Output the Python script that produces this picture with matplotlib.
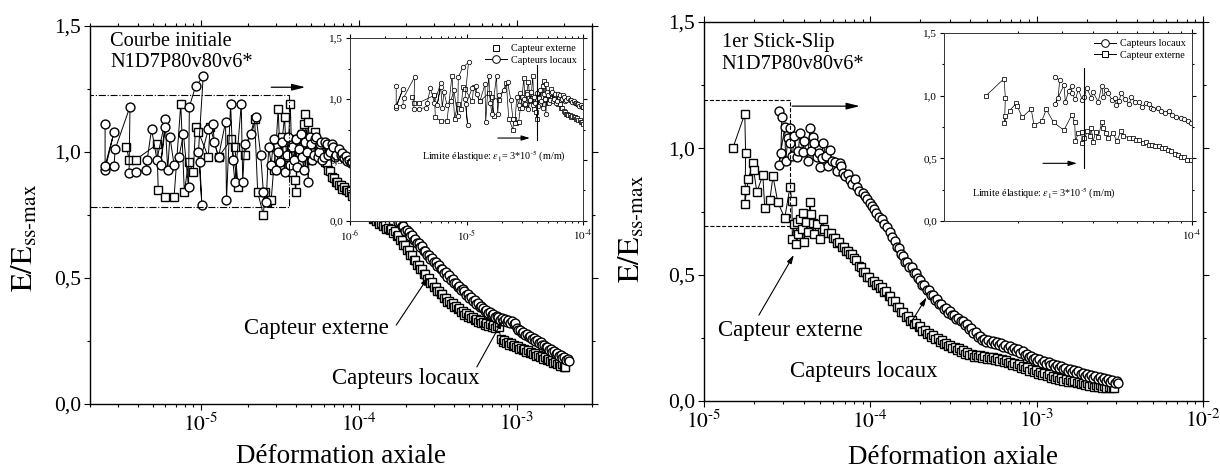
import matplotlib
matplotlib.use("Agg")
import matplotlib.pyplot as plt
from matplotlib.lines import Line2D
from matplotlib.patches import Rectangle
from matplotlib.ticker import FixedLocator, LogLocator, NullFormatter, FuncFormatter

plt.rcParams["font.family"] = ["Liberation Serif", "DejaVu Serif"]
plt.rcParams["mathtext.fontset"] = "stix"

# ---------------- left panel: Courbe initiale ----------------
# capteurs locaux (circles), read segment by segment, in recording order
init_loc_noisy = [
    (2.49e-6, 1.11), (2.49e-6, 0.93), (2.84e-6, 1.08), (2.49e-6, 0.945), (2.84e-6, 0.945),
    (2.88e-6, 1.01), (3.58e-6, 1.18), (3.53e-6, 0.915), (3.9e-6, 0.92), (4.5e-6, 0.93),
    (4.6e-6, 0.97), (4.9e-6, 1.09), (5.3e-6, 0.97), (6.0e-6, 1.13), (5.6e-6, 0.95),
    (6.0e-6, 1.10), (6.2e-6, 0.93), (6.4e-6, 1.06), (6.8e-6, 0.95), (7.3e-6, 0.98),
    (7.8e-6, 1.07), (8.4e-6, 0.86), (8.5e-6, 1.18), (9.3e-6, 1.26), (1.04e-5, 1.30),
    (9.7e-6, 1.00), (1.02e-5, 0.79), (9.9e-6, 0.96), (1.12e-5, 1.09), (1.2e-5, 1.11),
    (1.22e-5, 1.04), (1.3e-5, 0.98), (1.44e-5, 1.12), (1.46e-5, 0.81), (1.55e-5, 1.19),
    (1.6e-5, 0.97), (1.65e-5, 0.88), (1.81e-5, 1.19), (1.85e-5, 0.88), (1.9e-5, 1.03),
    (2.1e-5, 1.07), (2.25e-5, 1.14), (2.4e-5, 0.99), (2.5e-5, 0.84), (2.6e-5, 0.80),
    (2.7e-5, 1.02),
]
init_loc_dense = [
    (2.8e-5, 0.95), (2.9e-5, 1.05), (3.0e-5, 0.93), (3.1e-5, 1.00), (3.2e-5, 0.96),
    (3.3e-5, 1.04), (3.4e-5, 0.92), (3.5e-5, 0.99), (3.6e-5, 1.06), (3.7e-5, 0.95),
    (3.8e-5, 1.02), (3.9e-5, 0.97), (4.0e-5, 1.05), (4.1e-5, 0.94), (4.2e-5, 1.01),
    (4.3e-5, 1.07), (4.4e-5, 0.98), (4.5e-5, 0.93), (4.6e-5, 1.04), (4.7e-5, 1.00),
    (4.8e-5, 0.88), (4.9e-5, 1.06), (5.0e-5, 1.03), (5.1e-5, 0.97), (5.2e-5, 0.99),
    (5.3e-5, 1.05), (5.4e-5, 1.06), (5.5e-5, 0.98), (5.6e-5, 1.00), (5.7e-5, 1.03),
    (5.8e-5, 1.04), (5.9e-5, 0.97), (6.0e-5, 0.98), (6.15e-5, 1.04), (6.3e-5, 1.03),
    (6.45e-5, 0.99), (6.6e-5, 1.00), (6.75e-5, 1.03), (6.9e-5, 1.02), (7.05e-5, 0.98),
    (7.2e-5, 0.99),
]
init_loc_decline = [
    (7.5e-5, 1.01), (7.7e-5, 0.99), (7.9e-5, 0.995), (8.1e-5, 0.975), (8.3e-5, 0.985),
    (8.5e-5, 0.965), (8.7e-5, 0.97), (8.9e-5, 0.955), (9.1e-5, 0.96), (9.3e-5, 0.945),
    (9.6e-5, 0.95), (9.8e-5, 0.935), (1.0e-4, 0.935), (1.03e-4, 0.915), (1.06e-4, 0.92),
    (1.08e-4, 0.905), (1.11e-4, 0.905), (1.14e-4, 0.885), (1.17e-4, 0.885), (1.2e-4, 0.87),
    (1.23e-4, 0.87), (1.26e-4, 0.85), (1.29e-4, 0.855), (1.32e-4, 0.835), (1.35e-4, 0.835),
    (1.39e-4, 0.815), (1.42e-4, 0.815), (1.46e-4, 0.795), (1.5e-4, 0.795), (1.53e-4, 0.775),
    (1.57e-4, 0.777), (1.61e-4, 0.758), (1.65e-4, 0.76), (1.69e-4, 0.741), (1.74e-4, 0.742),
    (1.78e-4, 0.723), (1.83e-4, 0.724), (1.87e-4, 0.705), (1.92e-4, 0.707), (1.97e-4, 0.688),
    (2.02e-4, 0.69), (2.07e-4, 0.683), (2.12e-4, 0.666), (2.17e-4, 0.669), (2.23e-4, 0.651),
    (2.28e-4, 0.654), (2.34e-4, 0.637), (2.4e-4, 0.64), (2.46e-4, 0.622), (2.52e-4, 0.625),
    (2.58e-4, 0.608), (2.65e-4, 0.609), (2.71e-4, 0.592), (2.78e-4, 0.593), (2.85e-4, 0.576),
    (2.92e-4, 0.579), (2.99e-4, 0.562), (3.07e-4, 0.565), (3.15e-4, 0.548), (3.22e-4, 0.551),
    (3.3e-4, 0.534), (3.39e-4, 0.537), (3.47e-4, 0.519), (3.56e-4, 0.522), (3.65e-4, 0.505),
    (3.74e-4, 0.51), (3.83e-4, 0.493), (3.93e-4, 0.496), (4.03e-4, 0.479), (4.13e-4, 0.482),
    (4.23e-4, 0.465), (4.34e-4, 0.468), (4.45e-4, 0.451), (4.56e-4, 0.455), (4.67e-4, 0.449),
    (4.79e-4, 0.433), (4.91e-4, 0.437), (5.03e-4, 0.421), (5.16e-4, 0.425), (5.29e-4, 0.409),
    (5.42e-4, 0.413), (5.55e-4, 0.397), (5.69e-4, 0.401), (5.84e-4, 0.385), (5.98e-4, 0.388),
    (6.13e-4, 0.382), (6.29e-4, 0.368), (6.44e-4, 0.374), (6.6e-4, 0.36), (6.77e-4, 0.366),
    (6.94e-4, 0.352), (7.11e-4, 0.358), (7.29e-4, 0.344), (7.47e-4, 0.35), (7.66e-4, 0.347),
    (7.85e-4, 0.334), (8.05e-4, 0.341), (8.25e-4, 0.329), (8.45e-4, 0.337), (8.67e-4, 0.325),
    (8.88e-4, 0.333), (9.1e-4, 0.321), (9.33e-4, 0.329), (9.56e-4, 0.317), (9.7e-4, 0.32),
]
init_loc_tail = [
    (1.0e-3, 0.303), (1.025e-3, 0.292), (1.05e-3, 0.295), (1.08e-3, 0.283), (1.1e-3, 0.286),
    (1.13e-3, 0.275), (1.16e-3, 0.278), (1.19e-3, 0.267), (1.22e-3, 0.269), (1.25e-3, 0.258),
    (1.28e-3, 0.261), (1.31e-3, 0.25), (1.35e-3, 0.253), (1.38e-3, 0.241), (1.42e-3, 0.244),
    (1.45e-3, 0.233), (1.49e-3, 0.236), (1.53e-3, 0.225), (1.56e-3, 0.227), (1.6e-3, 0.216),
    (1.64e-3, 0.219), (1.68e-3, 0.208), (1.73e-3, 0.211), (1.77e-3, 0.199), (1.81e-3, 0.202),
    (1.86e-3, 0.191), (1.91e-3, 0.194), (1.95e-3, 0.183), (2.0e-3, 0.185), (2.05e-3, 0.174),
    (2.1e-3, 0.177), (2.15e-3, 0.17),
]

# capteur externe (squares)
init_ext_noisy = [
    (3.4e-6, 1.02), (3.53e-6, 0.97), (3.9e-6, 0.97), (5.3e-6, 1.03), (5.4e-6, 0.85),
    (6.0e-6, 0.82), (6.8e-6, 0.82), (7.5e-6, 1.19), (7.9e-6, 0.84), (8.4e-6, 0.96),
    (9.0e-6, 0.92), (9.3e-6, 1.10), (9.7e-6, 1.08), (1.12e-5, 0.98), (1.15e-5, 1.10),
    (1.3e-5, 0.98), (1.56e-5, 1.05), (1.73e-5, 0.86), (1.65e-5, 1.02), (1.9e-5, 0.99),
    (2.2e-5, 1.13), (2.3e-5, 0.84), (2.5e-5, 0.75), (2.55e-5, 0.84), (2.65e-5, 0.80),
    (2.8e-5, 0.81),
]
init_ext_dense = [
    (2.9e-5, 0.93), (3.0e-5, 1.02), (3.1e-5, 1.17), (3.2e-5, 0.95), (3.3e-5, 1.06),
    (3.4e-5, 1.14), (3.5e-5, 0.98), (3.6e-5, 1.04), (3.7e-5, 1.19), (3.8e-5, 0.92),
    (3.95e-5, 0.89), (4.0e-5, 0.84), (4.1e-5, 1.05), (4.2e-5, 1.00), (4.3e-5, 0.96),
    (4.4e-5, 1.07), (4.5e-5, 1.11), (4.6e-5, 1.15), (4.7e-5, 0.99), (4.8e-5, 1.12),
    (4.9e-5, 1.03), (5.0e-5, 0.97), (5.1e-5, 1.05), (5.3e-5, 1.08), (5.5e-5, 1.04),
    (5.6e-5, 1.02), (5.8e-5, 1.00),
]
init_ext_decline = [
    (6.0e-5, 0.985), (6.15e-5, 0.96), (6.3e-5, 0.955), (6.45e-5, 0.93), (6.6e-5, 0.925),
    (6.8e-5, 0.90), (7.0e-5, 0.895), (7.15e-5, 0.88), (7.3e-5, 0.88), (7.5e-5, 0.87),
    (7.7e-5, 0.87), (7.9e-5, 0.855), (8.1e-5, 0.86), (8.3e-5, 0.85), (8.5e-5, 0.85),
    (8.7e-5, 0.84), (8.9e-5, 0.845), (9.1e-5, 0.825), (9.4e-5, 0.83), (9.6e-5, 0.81),
    (9.8e-5, 0.815), (1.0e-4, 0.795), (1.03e-4, 0.80), (1.06e-4, 0.78), (1.08e-4, 0.785),
    (1.11e-4, 0.765), (1.14e-4, 0.77), (1.17e-4, 0.75), (1.2e-4, 0.755), (1.23e-4, 0.735),
    (1.26e-4, 0.74), (1.29e-4, 0.725), (1.32e-4, 0.73), (1.35e-4, 0.715), (1.39e-4, 0.72),
    (1.42e-4, 0.705), (1.46e-4, 0.71), (1.5e-4, 0.695), (1.53e-4, 0.70), (1.57e-4, 0.69),
    (1.61e-4, 0.695), (1.65e-4, 0.68), (1.69e-4, 0.685), (1.74e-4, 0.665), (1.78e-4, 0.67),
    (1.83e-4, 0.65), (1.87e-4, 0.65), (1.92e-4, 0.63), (1.97e-4, 0.63), (2.02e-4, 0.61),
    (2.07e-4, 0.61), (2.12e-4, 0.59), (2.17e-4, 0.59), (2.23e-4, 0.57), (2.28e-4, 0.57),
    (2.34e-4, 0.55), (2.4e-4, 0.55), (2.46e-4, 0.535), (2.52e-4, 0.535), (2.58e-4, 0.515),
    (2.65e-4, 0.515), (2.71e-4, 0.495), (2.78e-4, 0.50), (2.85e-4, 0.48), (2.92e-4, 0.485),
    (2.99e-4, 0.465), (3.07e-4, 0.465), (3.15e-4, 0.45), (3.22e-4, 0.45), (3.3e-4, 0.435),
    (3.39e-4, 0.435), (3.47e-4, 0.42), (3.56e-4, 0.42), (3.65e-4, 0.405), (3.74e-4, 0.41),
    (3.83e-4, 0.395), (3.93e-4, 0.40), (4.03e-4, 0.385), (4.13e-4, 0.39), (4.23e-4, 0.375),
    (4.34e-4, 0.38), (4.45e-4, 0.365), (4.56e-4, 0.37), (4.67e-4, 0.355), (4.79e-4, 0.36),
    (4.91e-4, 0.347), (5.03e-4, 0.353), (5.16e-4, 0.34), (5.29e-4, 0.345), (5.42e-4, 0.332),
    (5.55e-4, 0.339), (5.69e-4, 0.326), (5.84e-4, 0.333), (5.98e-4, 0.32), (6.13e-4, 0.327),
    (6.29e-4, 0.315), (6.44e-4, 0.323), (6.6e-4, 0.311), (6.77e-4, 0.319), (6.94e-4, 0.307),
    (7.11e-4, 0.315), (7.29e-4, 0.303), (7.47e-4, 0.311), (7.7e-4, 0.305),
]
init_ext_tail = [
    (7.95e-4, 0.258), (8.15e-4, 0.247), (8.35e-4, 0.252), (8.55e-4, 0.241), (8.77e-4, 0.247),
    (8.99e-4, 0.236), (9.2e-4, 0.241), (9.45e-4, 0.23), (9.68e-4, 0.236), (9.92e-4, 0.225),
    (1.017e-3, 0.23), (1.04e-3, 0.219), (1.07e-3, 0.224), (1.095e-3, 0.213), (1.12e-3, 0.219),
    (1.15e-3, 0.208), (1.18e-3, 0.213), (1.21e-3, 0.202), (1.24e-3, 0.208), (1.27e-3, 0.197),
    (1.3e-3, 0.202), (1.33e-3, 0.191), (1.37e-3, 0.196), (1.4e-3, 0.186), (1.44e-3, 0.191),
    (1.47e-3, 0.18), (1.51e-3, 0.185), (1.55e-3, 0.174), (1.59e-3, 0.18), (1.63e-3, 0.169),
    (1.67e-3, 0.174), (1.71e-3, 0.163), (1.75e-3, 0.168), (1.8e-3, 0.158), (1.84e-3, 0.163),
    (1.89e-3, 0.152), (1.94e-3, 0.157), (1.99e-3, 0.147), (2.03e-3, 0.147),
]

# ---------------- right panel: 1er Stick-Slip ----------------
slip_loc_noisy = [
    (2.82e-5, 1.148), (2.94e-5, 1.124), (2.9e-5, 0.98), (2.82e-5, 0.934), (3.06e-5, 1.084),
    (3.1e-5, 0.95), (3.2e-5, 1.04), (3.29e-5, 1.08), (3.29e-5, 1.02), (3.4e-5, 0.97),
    (3.5e-5, 1.05), (3.62e-5, 0.966), (3.7e-5, 0.99), (3.77e-5, 1.06), (3.94e-5, 0.985),
    (4.0e-5, 1.03), (4.2e-5, 0.95), (4.34e-5, 1.08), (4.4e-5, 0.99), (4.52e-5, 1.045),
    (4.6e-5, 1.02), (4.77e-5, 0.966), (4.9e-5, 0.98), (4.97e-5, 0.926), (5.1e-5, 0.96),
    (5.19e-5, 1.02), (5.4e-5, 0.97), (5.6e-5, 0.93), (5.7e-5, 0.993), (5.9e-5, 0.95),
    (6.12e-5, 0.946), (6.3e-5, 0.91), (6.54e-5, 0.942), (6.7e-5, 0.93), (6.83e-5, 0.902),
    (7.0e-5, 0.89), (7.3e-5, 0.90), (7.53e-5, 0.875), (7.8e-5, 0.86), (8.1e-5, 0.88),
    (8.3e-5, 0.847), (8.6e-5, 0.83), (9.0e-5, 0.823), (9.3e-5, 0.81), (9.6e-5, 0.80),
    (9.9e-5, 0.784), (1.03e-4, 0.77), (1.06e-4, 0.76), (1.09e-4, 0.744), (1.13e-4, 0.73),
    (1.17e-4, 0.72), (1.21e-4, 0.70), (1.26e-4, 0.689), (1.31e-4, 0.67), (1.36e-4, 0.649),
]
slip_loc_decline = [
    (1.4e-4, 0.635), (1.44e-4, 0.61), (1.48e-4, 0.605), (1.53e-4, 0.58), (1.57e-4, 0.575),
    (1.62e-4, 0.55), (1.67e-4, 0.55), (1.72e-4, 0.53), (1.77e-4, 0.53), (1.82e-4, 0.505),
    (1.88e-4, 0.505), (1.93e-4, 0.485), (1.99e-4, 0.48), (2.05e-4, 0.46), (2.11e-4, 0.46),
    (2.18e-4, 0.44), (2.24e-4, 0.44), (2.31e-4, 0.42), (2.38e-4, 0.42), (2.45e-4, 0.40),
    (2.52e-4, 0.405), (2.6e-4, 0.385), (2.68e-4, 0.385), (2.76e-4, 0.365), (2.84e-4, 0.37),
    (2.93e-4, 0.35), (3.01e-4, 0.355), (3.1e-4, 0.34), (3.2e-4, 0.34), (3.29e-4, 0.325),
    (3.39e-4, 0.33), (3.49e-4, 0.315), (3.6e-4, 0.315), (3.71e-4, 0.30), (3.82e-4, 0.305),
    (3.93e-4, 0.285), (4.05e-4, 0.29), (4.17e-4, 0.27), (4.3e-4, 0.273), (4.43e-4, 0.255),
    (4.56e-4, 0.257), (4.7e-4, 0.241), (4.84e-4, 0.247), (4.98e-4, 0.235), (5.13e-4, 0.243),
    (5.29e-4, 0.231), (5.44e-4, 0.239), (5.61e-4, 0.227), (5.78e-4, 0.234), (5.95e-4, 0.221),
    (6.13e-4, 0.228), (6.31e-4, 0.215), (6.5e-4, 0.222), (6.7e-4, 0.209), (6.9e-4, 0.216),
    (7.1e-4, 0.203), (7.32e-4, 0.21), (7.54e-4, 0.197), (7.76e-4, 0.204), (8.0e-4, 0.19),
    (8.24e-4, 0.196), (8.48e-4, 0.182), (8.74e-4, 0.188), (9.0e-4, 0.174), (9.27e-4, 0.18),
    (9.55e-4, 0.166), (9.84e-4, 0.172), (1.01e-3, 0.158), (1.04e-3, 0.165), (1.08e-3, 0.152),
    (1.11e-3, 0.159), (1.14e-3, 0.146), (1.18e-3, 0.153), (1.21e-3, 0.141), (1.25e-3, 0.148),
    (1.29e-3, 0.135), (1.33e-3, 0.143), (1.37e-3, 0.13), (1.41e-3, 0.137), (1.45e-3, 0.125),
    (1.49e-3, 0.132), (1.54e-3, 0.12), (1.58e-3, 0.127), (1.63e-3, 0.115), (1.68e-3, 0.122),
    (1.73e-3, 0.11), (1.78e-3, 0.117), (1.84e-3, 0.105), (1.89e-3, 0.112), (1.95e-3, 0.10),
    (2.01e-3, 0.108), (2.07e-3, 0.096), (2.13e-3, 0.104), (2.19e-3, 0.092), (2.26e-3, 0.1),
    (2.33e-3, 0.088), (2.4e-3, 0.096), (2.47e-3, 0.084), (2.54e-3, 0.092), (2.62e-3, 0.08),
    (2.7e-3, 0.088), (2.78e-3, 0.077), (2.86e-3, 0.084), (2.95e-3, 0.073), (3.04e-3, 0.078),
    (3.1e-3, 0.07),
]

slip_ext_noisy = [
    (1.49e-5, 1.00), (1.76e-5, 1.136), (1.78e-5, 0.98), (1.77e-5, 0.835), (1.76e-5, 0.78),
    (1.85e-5, 0.88), (1.97e-5, 0.94), (1.99e-5, 0.914), (2.08e-5, 0.827), (2.26e-5, 0.894),
    (2.32e-5, 0.764), (2.49e-5, 0.795), (2.6e-5, 0.89), (2.78e-5, 0.787), (3.06e-5, 0.724),
    (3.29e-5, 0.847), (3.38e-5, 0.79), (3.4e-5, 0.64), (3.5e-5, 0.70), (3.62e-5, 0.708),
    (3.6e-5, 0.62), (3.7e-5, 0.66), (3.8e-5, 0.72), (3.9e-5, 0.68), (3.94e-5, 0.744),
    (4.0e-5, 0.63), (4.1e-5, 0.71), (4.2e-5, 0.67), (4.34e-5, 0.787), (4.4e-5, 0.74),
    (4.52e-5, 0.704), (4.6e-5, 0.66), (4.8e-5, 0.70), (5.0e-5, 0.64), (5.19e-5, 0.72),
    (5.3e-5, 0.68), (5.56e-5, 0.665),
]
slip_ext_decline = [
    (5.8e-5, 0.665), (5.97e-5, 0.645), (6.15e-5, 0.645), (6.33e-5, 0.625), (6.52e-5, 0.63),
    (6.72e-5, 0.61), (6.92e-5, 0.61), (7.13e-5, 0.595), (7.34e-5, 0.595), (7.56e-5, 0.58),
    (7.79e-5, 0.58), (8.02e-5, 0.565), (8.26e-5, 0.56), (8.51e-5, 0.535), (8.77e-5, 0.53),
    (9.03e-5, 0.51), (9.3e-5, 0.51), (9.58e-5, 0.49), (9.87e-5, 0.49), (1.02e-4, 0.472),
    (1.05e-4, 0.475), (1.08e-4, 0.46), (1.11e-4, 0.465), (1.14e-4, 0.447), (1.18e-4, 0.45),
    (1.21e-4, 0.433), (1.25e-4, 0.435), (1.29e-4, 0.415), (1.32e-4, 0.415), (1.36e-4, 0.395),
    (1.4e-4, 0.395), (1.45e-4, 0.373), (1.49e-4, 0.373), (1.54e-4, 0.353), (1.58e-4, 0.353),
    (1.63e-4, 0.333), (1.68e-4, 0.335), (1.73e-4, 0.318), (1.78e-4, 0.321), (1.83e-4, 0.305),
    (1.89e-4, 0.308), (1.95e-4, 0.292), (2.0e-4, 0.295), (2.06e-4, 0.279), (2.13e-4, 0.283),
    (2.19e-4, 0.267), (2.26e-4, 0.271), (2.32e-4, 0.255), (2.39e-4, 0.26), (2.46e-4, 0.245),
    (2.54e-4, 0.25), (2.61e-4, 0.235), (2.69e-4, 0.24), (2.77e-4, 0.225), (2.86e-4, 0.231),
    (2.94e-4, 0.217), (3.03e-4, 0.223), (3.12e-4, 0.209), (3.22e-4, 0.215), (3.31e-4, 0.201),
    (3.41e-4, 0.208), (3.51e-4, 0.195), (3.62e-4, 0.201), (3.73e-4, 0.188), (3.84e-4, 0.195),
    (3.95e-4, 0.181), (4.07e-4, 0.188), (4.2e-4, 0.176), (4.32e-4, 0.184), (4.45e-4, 0.173),
    (4.59e-4, 0.181), (4.72e-4, 0.17), (4.86e-4, 0.178), (5.01e-4, 0.167), (5.16e-4, 0.176),
    (5.32e-4, 0.165), (5.48e-4, 0.174), (5.64e-4, 0.163), (5.81e-4, 0.172), (5.98e-4, 0.16),
    (6.16e-4, 0.168), (6.35e-4, 0.155), (6.54e-4, 0.162), (6.74e-4, 0.149), (6.94e-4, 0.156),
    (7.15e-4, 0.143), (7.36e-4, 0.151), (7.58e-4, 0.138), (7.81e-4, 0.145), (8.04e-4, 0.132),
    (8.28e-4, 0.139), (8.53e-4, 0.126), (8.79e-4, 0.133), (9.05e-4, 0.12), (9.32e-4, 0.127),
    (9.6e-4, 0.114), (9.89e-4, 0.121), (1.02e-3, 0.108), (1.05e-3, 0.115), (1.08e-3, 0.103),
    (1.11e-3, 0.11), (1.15e-3, 0.098), (1.18e-3, 0.105), (1.22e-3, 0.093), (1.25e-3, 0.1),
    (1.29e-3, 0.089), (1.33e-3, 0.096), (1.37e-3, 0.085), (1.41e-3, 0.092), (1.45e-3, 0.081),
    (1.5e-3, 0.088), (1.54e-3, 0.077), (1.59e-3, 0.084), (1.64e-3, 0.074), (1.69e-3, 0.081),
    (1.74e-3, 0.07), (1.79e-3, 0.077), (1.84e-3, 0.066), (1.9e-3, 0.073), (1.95e-3, 0.063),
    (2.01e-3, 0.07), (2.07e-3, 0.06), (2.14e-3, 0.067), (2.2e-3, 0.057), (2.27e-3, 0.064),
    (2.33e-3, 0.055), (2.4e-3, 0.062), (2.48e-3, 0.053), (2.55e-3, 0.059), (2.63e-3, 0.052),
    (2.71e-3, 0.057), (2.79e-3, 0.05), (2.87e-3, 0.055), (2.9e-3, 0.05),
]

y_ticks = [0.0, 0.5, 1.0, 1.5]
y_tick_labels = ["0,0", "0,5", "1,0", "1,5"]
y_minor = [0.25, 0.75, 1.25]


def unzip(*segments):
    pts = [p for seg in segments for p in seg]
    return [p[0] for p in pts], [p[1] for p in pts]


init_loc_x, init_loc_y = unzip(init_loc_noisy, init_loc_dense, init_loc_decline, init_loc_tail)
init_ext_x, init_ext_y = unzip(init_ext_noisy, init_ext_dense, init_ext_decline, init_ext_tail)
slip_loc_x, slip_loc_y = unzip(slip_loc_noisy, slip_loc_decline)
slip_ext_x, slip_ext_y = unzip(slip_ext_noisy, slip_ext_decline)


def draw_series(ax, x, y, marker, ms, lw, mew):
    ax.plot(x, y, ls="-", color="black", lw=lw, marker=marker, ms=ms,
            mfc="white", mec="black", mew=mew)


def pow10(v, pos):
    e = int(round(__import__("math").log10(v)))
    return r"$10^{\text{-%d}}$" % (-e) if e < 0 else r"$10^{%d}$" % e


def style_axes(ax, xlim, label_size, major_len, minor_len):
    ax.set_xscale("log")
    ax.set_xlim(*xlim)
    ax.set_ylim(0.0, 1.5)
    ax.yaxis.set_major_locator(FixedLocator(y_ticks))
    ax.set_yticklabels(y_tick_labels)
    ax.yaxis.set_minor_locator(FixedLocator(y_minor))
    ax.xaxis.set_major_locator(LogLocator(base=10))
    ax.xaxis.set_major_formatter(FuncFormatter(pow10))
    ax.xaxis.set_minor_locator(LogLocator(base=10, subs=range(2, 10)))
    ax.xaxis.set_minor_formatter(NullFormatter())
    ax.tick_params(which="both", direction="out", top=True, right=True,
                   labelsize=label_size, width=0.8)
    ax.tick_params(which="major", length=major_len, pad=2)
    ax.tick_params(which="minor", length=minor_len)


small_arrow = dict(arrowstyle="-|>,head_length=0.5,head_width=0.15",
                   color="black", lw=0.8, shrinkA=0, shrinkB=0)
long_arrow = dict(arrowstyle="-|>,head_length=0.8,head_width=0.2",
                  color="black", lw=0.9, shrinkA=0, shrinkB=0)
limit_text = r"Limite élastique: $\varepsilon_1$= 3*10$^{\text{-5}}$ (m/m)"

fig = plt.figure(figsize=(12.2, 4.71), dpi=100)

# ================= left panel =================
ax1 = fig.add_axes([0.0738, 0.1423, 0.4115, 0.8025])
draw_series(ax1, init_ext_x, init_ext_y, "s", 5.8, 0.7, 1.0)
draw_series(ax1, init_loc_x, init_loc_y, "o", 6.4, 0.7, 1.0)
style_axes(ax1, (2e-6, 3e-3), 15.5, 4.5, 2.5)
for s in ax1.spines.values():
    s.set_linewidth(1.0)
ax1.set_xlabel("Déformation axiale", fontsize=19.5)
ax1.xaxis.set_label_coords(0.5, -0.105)
ax1.set_ylabel(r"$\mathrm{E/E}_{\text{ss-max}}$", fontsize=22)
ax1.yaxis.set_label_coords(-0.10, 0.44)
ax1.text(0.04, 0.985, "Courbe initiale\nN1D7P80v80v6*", transform=ax1.transAxes,
         fontsize=14.7, va="top", ha="left", linespacing=1.2)
ax1.add_patch(Rectangle((2e-6, 0.78), 3.63e-5 - 2e-6, 0.446, fill=False,
                        ls="-.", lw=0.8, color="black", zorder=4))
ax1.annotate("", xy=(4.6e-5, 1.257), xytext=(2.8e-5, 1.257), arrowprops=long_arrow)
ax1.annotate("", xy=(2.76e-4, 0.504), xytext=(1.73e-4, 0.313), arrowprops=small_arrow)
ax1.text(5.4e-5, 0.30, "Capteur externe", fontsize=16.4, ha="center", va="center")
ax1.annotate("", xy=(8.17e-4, 0.333), xytext=(5.6e-4, 0.147), arrowprops=small_arrow)
ax1.text(2.0e-4, 0.103, "Capteurs locaux", fontsize=16.4, ha="center", va="center")

# inset (left)
in1 = fig.add_axes([0.2869, 0.5308, 0.191, 0.3885])
in1.set_zorder(5)
draw_series(in1, init_ext_x, init_ext_y, "s", 3.0, 0.5, 0.55)
draw_series(in1, init_loc_x, init_loc_y, "o", 3.2, 0.5, 0.55)
style_axes(in1, (1e-6, 1e-4), 8, 3, 1.6)
for s in in1.spines.values():
    s.set_linewidth(0.7)
    s.set_color("#333333")
in1.plot([4e-5, 4e-5], [0.664, 1.28], color="black", lw=0.8)
in1.annotate("", xy=(3.5e-5, 0.68), xytext=(1.86e-5, 0.68), arrowprops=small_arrow)
in1.text(1.72e-5, 0.53, limit_text, fontsize=7.3, ha="center", va="center")
leg1 = [Line2D([], [], ls="none", marker="s", ms=5, mfc="white", mec="black", mew=0.7),
        Line2D([], [], ls="-", color="black", lw=0.7, marker="o", ms=5.5,
               mfc="white", mec="black", mew=0.7)]
in1.legend(leg1, ["Capteur externe", "Capteurs locaux"], loc="upper right",
           frameon=False, fontsize=7.3, handlelength=2.2, handletextpad=0.4,
           labelspacing=0.25, borderaxespad=0.2)

# ================= right panel =================
ax2 = fig.add_axes([0.577, 0.1486, 0.409, 0.8047])
draw_series(ax2, slip_ext_x, slip_ext_y, "s", 5.8, 0.7, 1.0)
draw_series(ax2, slip_loc_x, slip_loc_y, "o", 6.4, 0.7, 1.0)
style_axes(ax2, (1e-5, 1e-2), 15.5, 4.5, 2.5)
for s in ax2.spines.values():
    s.set_linewidth(1.0)
ax2.set_xlabel("Déformation axiale", fontsize=19.5)
ax2.xaxis.set_label_coords(0.5, -0.115)
ax2.set_ylabel(r"$\mathrm{E/E}_{\text{ss-max}}$", fontsize=22)
ax2.yaxis.set_label_coords(-0.115, 0.455)
ax2.text(0.036, 0.97, "1er Stick-Slip\nN1D7P80v80v6*", transform=ax2.transAxes,
         fontsize=14.7, va="top", ha="left", linespacing=1.2)
ax2.add_patch(Rectangle((1e-5, 0.694), 3.3e-5 - 1e-5, 0.496, fill=False,
                        ls="--", lw=0.8, color="black", zorder=4))
ax2.annotate("", xy=(8.65e-5, 1.167), xytext=(3.4e-5, 1.167), arrowprops=long_arrow)
ax2.annotate("", xy=(3.47e-5, 0.578), xytext=(2.14e-5, 0.34), arrowprops=small_arrow)
ax2.text(3.33e-5, 0.281, "Capteur externe", fontsize=16.4, ha="center", va="center")
ax2.annotate("", xy=(2.18e-4, 0.41), xytext=(1.75e-4, 0.309), arrowprops=small_arrow)
ax2.text(9.14e-5, 0.115, "Capteurs locaux", fontsize=16.4, ha="center", va="center")

# inset (right)
in2 = fig.add_axes([0.7738, 0.5308, 0.2033, 0.3992])
in2.set_zorder(5)
draw_series(in2, slip_ext_x, slip_ext_y, "s", 3.0, 0.5, 0.55)
draw_series(in2, slip_loc_x, slip_loc_y, "o", 3.2, 0.5, 0.55)
style_axes(in2, (1.01e-5, 1e-4), 8, 3, 1.6)
for s in in2.spines.values():
    s.set_linewidth(0.7)
    s.set_color("#333333")
in2.plot([3.7e-5, 3.7e-5], [0.42, 1.22], color="black", lw=0.8)
in2.annotate("", xy=(3.45e-5, 0.46), xytext=(2.52e-5, 0.46), arrowprops=small_arrow)
in2.text(2.55e-5, 0.22, limit_text, fontsize=7.3, ha="center", va="center")
leg2 = [Line2D([], [], ls="-", color="black", lw=0.7, marker="o", ms=5.5,
               mfc="white", mec="black", mew=0.7),
        Line2D([], [], ls="-", color="black", lw=0.7, marker="s", ms=5,
               mfc="white", mec="black", mew=0.7)]
in2.legend(leg2, ["Capteurs locaux", "Capteur externe"], loc="upper right",
           frameon=False, fontsize=7.3, handlelength=2.2, handletextpad=0.4,
           labelspacing=0.25, borderaxespad=0.2)

fig.savefig("out.png", dpi=100)
